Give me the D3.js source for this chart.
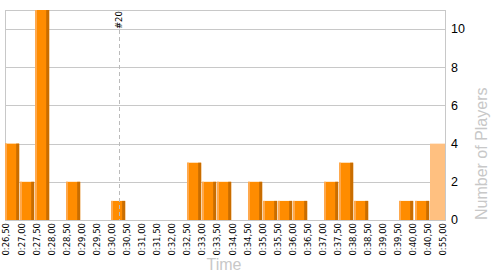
<!DOCTYPE html>
<html>
<head>
<meta charset="utf-8">
<script src="https://cdn.jsdelivr.net/npm/d3@7"></script>
<style>
  body { margin: 0; background: #fff; }
  svg { display: block; font-family: "DejaVu Sans", Verdana, sans-serif; }
</style>
</head>
<body>
<svg class="hist" width="500" height="275"></svg>
<script>
// bin edges (labels under the axis), one more than the bars
var edges = ['0:26,50','0:27,00','0:27,50','0:28,00','0:28,50','0:29,00','0:29,50','0:30,00',
  '0:30,50','0:31,00','0:31,50','0:32,00','0:32,50','0:33,00','0:33,50','0:34,00','0:34,50',
  '0:35,00','0:35,50','0:36,00','0:36,50','0:37,00','0:37,50','0:38,00','0:38,50','0:39,00',
  '0:39,50','0:40,00','0:40,50','0:55,00'];
// players per bin, bin i goes from edges[i] to edges[i+1]
var players = [4,2,11,0,2,0,0,1,0,0,0,0,3,2,2,0,2,1,1,1,0,2,3,1,0,0,1,1,4];
var yTicks = [0,2,4,6,8,10];
var marker = {bin: 7, label: '#20'};
var lastBin = players.length - 1; // overflow bin drawn light

var svg = d3.select('svg.hist'),
  mleft = 5, mright = 445, mtop = 10, mbottom = 220;

var bins = players.map(function(d, i) { return i; });
var x = d3.scaleBand().domain(bins).range([mleft, mright]).padding(0);
var xl = d3.scalePoint().domain(edges).range([mleft + 1.5, mright - 1.5]);
var y = d3.scaleLinear().domain([0, 11]).range([mbottom, mtop]);

// grid
svg.append('g').selectAll('line')
  .data(yTicks.slice(1))
  .enter().append('line')
  .attr('x1', mleft).attr('x2', mright)
  .attr('y1', function(d) { return Math.round(y(d)) + 0.5; })
  .attr('y2', function(d) { return Math.round(y(d)) + 0.5; })
  .attr('stroke', '#c8c8c8');

svg.append('rect')
  .attr('x', mleft + 0.5).attr('y', mtop + 0.5)
  .attr('width', mright - mleft).attr('height', mbottom - mtop)
  .attr('fill', 'none').attr('stroke', '#c8c8c8');

// bars
var bw = x.bandwidth() - 1;
svg.selectAll('g.bar')
  .data(players.map(function(d, i) { return {i: i, v: d}; }).filter(function(d) { return d.v > 0; }))
  .enter().append('g')
  .attr('class', 'bar')
  .each(function(d) {
    var b = d3.select(this), x0 = Math.round(x(d.i)), y0 = y(d.v), h = mbottom - y0;
    if (d.i === lastBin) {
      b.append('rect').attr('x', x0).attr('y', y0).attr('width', mright - x0).attr('height', h).attr('fill', '#ffc080');
      return;
    }
    b.append('rect').attr('x', x0).attr('y', y0).attr('width', bw).attr('height', h).attr('fill', '#ff8c00');
    b.append('rect').attr('x', x0).attr('y', y0).attr('width', 2).attr('height', h).attr('fill', '#ffa94d');
    b.append('rect').attr('x', x0 + bw - 3).attr('y', y0).attr('width', 3).attr('height', h).attr('fill', '#c96d00');
  });

// baseline
svg.append('line')
  .attr('x1', mleft).attr('x2', mright + 1)
  .attr('y1', mbottom + 0.5).attr('y2', mbottom + 0.5)
  .attr('stroke', '#c8c8c8');

// marker line
var mx = Math.round(x(marker.bin) + x.bandwidth() / 2) + 0.5;
svg.append('line')
  .attr('x1', mx).attr('x2', mx)
  .attr('y1', 30).attr('y2', mbottom)
  .attr('stroke', '#bbb')
  .attr('stroke-dasharray', '4,3');
svg.append('text')
  .attr('transform', 'translate(' + mx + ',29) rotate(-90)')
  .attr('dy', '0.35em')
  .attr('font-size', '8.5px')
  .attr('fill', '#000')
  .text(marker.label);

// x tick labels
svg.append('g').selectAll('text')
  .data(edges)
  .enter().append('text')
  .attr('transform', function(d) { return 'translate(' + xl(d) + ',223) rotate(-90)'; })
  .attr('dy', '0.35em')
  .attr('text-anchor', 'end')
  .attr('font-size', '8.5px')
  .attr('fill', '#000')
  .text(function(d) { return d; });

// y tick labels on the right
svg.append('g').selectAll('text')
  .data(yTicks)
  .enter().append('text')
  .attr('x', 451)
  .attr('y', function(d) { return y(d); })
  .attr('dy', '0.35em')
  .attr('font-family', '"Liberation Sans", Arial, sans-serif')
  .attr('font-size', '12.5px')
  .attr('fill', '#000')
  .text(function(d) { return d; });

// titles
svg.append('text')
  .attr('x', 224).attr('y', 270)
  .attr('text-anchor', 'middle')
  .attr('font-family', '"Liberation Sans", Arial, sans-serif')
  .attr('font-size', '16px')
  .attr('fill', '#c8c8c8')
  .text('Time');

svg.append('text')
  .attr('transform', 'translate(487,220) rotate(-90)')
  .attr('text-anchor', 'start')
  .attr('font-family', '"Liberation Sans", Arial, sans-serif')
  .attr('font-size', '16px')
  .attr('fill', '#c8c8c8')
  .text('Number of Players');
</script>
</body>
</html>
